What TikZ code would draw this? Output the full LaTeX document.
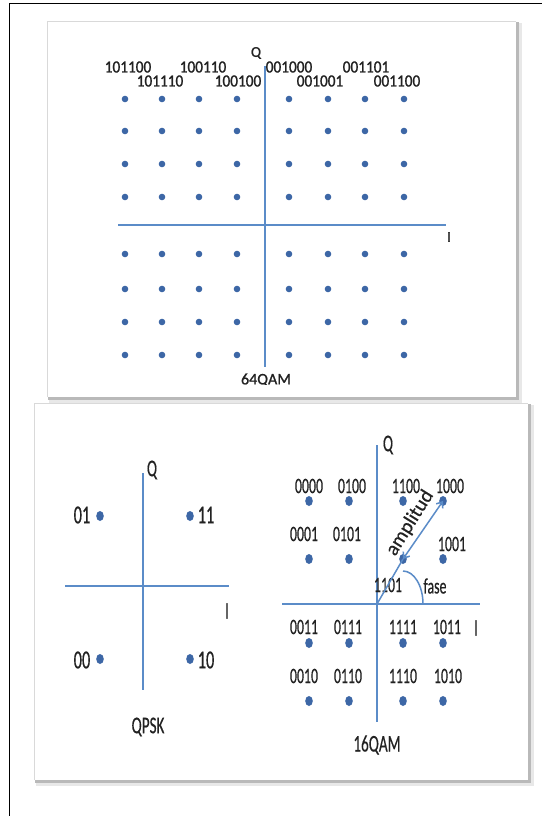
\documentclass[tikz,border=0pt]{standalone}
\usepackage{fontspec}
\setmainfont{Carlito}
\newfontfamily\boldish[FakeBold=1.2]{Carlito}
\newfontfamily\semib[FakeBold=0.5]{Carlito}
\usepackage{graphicx}
\usetikzlibrary{arrows.meta,shapes.geometric}
\definecolor{dotblue}{HTML}{3D67A6}
\definecolor{axisblue}{HTML}{5B8CC8}
\definecolor{txt}{HTML}{222222}
\newcommand\sqz[1]{\scalebox{0.63}[1]{#1}}
\newcommand\tsq[1]{\scalebox{0.9}[1]{#1}}
\begin{document}
\begin{tikzpicture}[x=1pt,y=-1pt,
  axis/.style={draw=axisblue,line width=1.8pt},
  thinaxis/.style={draw=axisblue,line width=1.5pt},
  sdot/.style={circle,fill=dotblue,inner sep=0pt,minimum size=6.6pt},
  edot/.style={ellipse,fill=dotblue,inner sep=0pt,minimum width=7.6pt,minimum height=10pt},
  toplbl/.style={text=txt,font=\boldish\fontsize{17}{19}\selectfont,inner sep=0pt},
  qlbl/.style={text=txt,font=\semib\fontsize{26}{28}\selectfont,inner sep=0pt},
  slbl/.style={text=txt,font=\semib\fontsize{22}{24}\selectfont,inner sep=0pt},
  axlbl/.style={text=txt,font=\semib\fontsize{24}{26}\selectfont,inner sep=0pt}]
\useasboundingbox (0,0) rectangle (541,816);
\fill[white] (0,0) rectangle (541,816);
% outer frame
\coordinate (fa) at (9,830);
\coordinate (fb) at (9,4);
\coordinate (fc) at (550,4);
\draw[black,line width=1pt] (fa) -- (fb) -- (fc);
% ---------- top panel ----------
\fill[gray!18] (49,23) rectangle (522,403);
\fill[gray!55] (48,22) rectangle (519,400);
\fill[white] (47,21) rectangle (516,397);
\draw[gray!30,line width=0.8pt] (47,397) -- (47,21) -- (516,21);
\coordinate (tqa) at (265,66);
\coordinate (tqb) at (265,367);
\coordinate (tia) at (118,225);
\coordinate (tib) at (446,225);
\draw[axis] (tqa) -- (tqb);
\draw[axis] (tia) -- (tib);
\node[text=txt,font=\boldish\fontsize{15}{17}\selectfont,inner sep=0pt] (tQ) at (256,53) {Q};
\node[text=txt,font=\boldish\fontsize{15}{17}\selectfont,inner sep=0pt] (tI) at (449,237) {I};
\foreach \x [count=\i] in {125,162,199,237,289,328,365,404}{
  \foreach \y [count=\j] in {99,131,164,197,254,289,322,355}{
    \node[sdot] (t\i-\j) at (\x,\y) {};
  }
}
\node[toplbl] (l1) at (128,67) {\tsq{101100}};
\node[toplbl] (l2) at (203,67) {\tsq{100110}};
\node[toplbl] (l3) at (289,67) {\tsq{001000}};
\node[toplbl] (l4) at (366,67) {\tsq{001101}};
\node[toplbl] (l5) at (160,81) {\tsq{101110}};
\node[toplbl] (l6) at (238,81) {\tsq{100100}};
\node[toplbl] (l7) at (320,81) {\tsq{001001}};
\node[toplbl] (l8) at (397,81) {\tsq{001100}};
\begin{scope}
\clip (200,360) rectangle (340,384);
\node[text=txt,font=\boldish\fontsize{16}{18}\selectfont,inner sep=0pt] (t64) at (266,380) {64QAM};
\end{scope}
% ---------- bottom panel ----------
\fill[gray!18] (36,405) rectangle (534,786);
\fill[gray!55] (35,404) rectangle (531,783);
\fill[white] (34,403) rectangle (528,780);
\draw[gray!30,line width=0.8pt] (34,780) -- (34,403) -- (528,403);
% QPSK
\coordinate (qqa) at (143,473);
\coordinate (qqb) at (143,690);
\coordinate (qia) at (65,586);
\coordinate (qib) at (229,586);
\draw[thinaxis] (qqa) -- (qqb);
\draw[thinaxis] (qia) -- (qib);
\node[axlbl] (qQ) at (152,470) {\sqz{Q}};
\node[axlbl] (qI) at (227,611) {\sqz{I}};
\node[edot] (q01) at (100,516) {};
\node[edot] (q11) at (190,516) {};
\node[edot] (q00) at (100,659) {};
\node[edot] (q10) at (190,659) {};
\node[qlbl] (lq01) at (82,515) {\sqz{01}};
\node[qlbl] (lq11) at (206,515) {\sqz{11}};
\node[qlbl] (lq00) at (82,660) {\sqz{00}};
\node[qlbl] (lq10) at (206,660) {\sqz{10}};
\node[axlbl] (qpsk) at (148,727) {\sqz{QPSK}};
% 16QAM
\coordinate (sqa) at (377,445);
\coordinate (sqb) at (377,722);
\coordinate (sia) at (282,604);
\coordinate (sib) at (480,604);
\coordinate (so) at (377,604);
\draw[thinaxis] (sqa) -- (sqb);
\draw[thinaxis] (sia) -- (sib);
\node[axlbl] (sQ) at (388,445) {\sqz{Q}};
\node[axlbl] (sI) at (476,628) {\sqz{I}};
\foreach \x [count=\i] in {309,349,403,443}{
  \foreach \y [count=\j] in {501,559,643,701}{
    \node[edot] (s\i-\j) at (\x,\y) {};
  }
}
\node[slbl] at (309,486) {\sqz{0000}};
\node[slbl] at (352,486) {\sqz{0100}};
\node[slbl] at (406,486) {\sqz{1100}};
\node[slbl] at (450,486) {\sqz{1000}};
\node[slbl] at (304,534) {\sqz{0001}};
\node[slbl] at (347,534) {\sqz{0101}};
\node[slbl] at (452,544) {\sqz{1001}};
\node[slbl] at (388,585) {\sqz{1101}};
\node[slbl] at (304,627) {\sqz{0011}};
\node[slbl] at (348,627) {\sqz{0111}};
\node[slbl] at (403,627) {\sqz{1111}};
\node[slbl] at (447,627) {\sqz{1011}};
\node[slbl] at (304,676) {\sqz{0010}};
\node[slbl] at (348,676) {\sqz{0110}};
\node[slbl] at (403,676) {\sqz{1110}};
\node[slbl] at (448,676) {\sqz{1010}};
\node[slbl] (fase) at (435,586) {\sqz{fase}};
\node[axlbl] (q16) at (377,745) {\sqz{16QAM}};
% amplitude vector and phase arc
\draw[thinaxis] (so) -- (s3-2.center);
\draw[draw=axisblue,line width=1.5pt,{Straight Barb[length=5pt,width=8pt]}-{Straight Barb[length=5pt,width=8pt]}] (s3-2.center) -- (s4-1.center);
\node[text=txt,font=\semib\fontsize{20}{22}\selectfont,inner sep=0pt,rotate=58] (amp) at (410,523) {amplitud};
\coordinate (arcs) at (403,571);
\draw[thinaxis] (arcs) arc[start angle=-90,end angle=0,x radius=20,y radius=33];
\end{tikzpicture}
\end{document}
